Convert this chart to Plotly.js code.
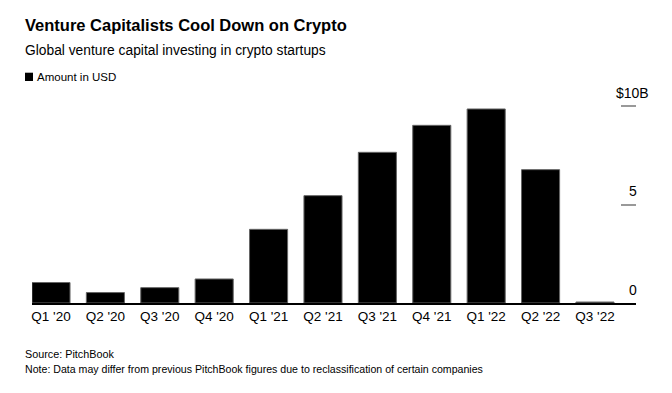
<!DOCTYPE html>
<html>
<head>
<meta charset="utf-8">
<script src="https://cdn.plot.ly/plotly-3.0.1.min.js"></script>
<style>html,body{margin:0;padding:0;background:#fff;}#chart{width:672px;height:393px;}</style>
</head>
<body>
<div id="chart"></div>
<script>
const quarters = ["Q1 '20","Q2 '20","Q3 '20","Q4 '20","Q1 '21","Q2 '21","Q3 '21","Q4 '21","Q1 '22","Q2 '22","Q3 '22"];
const amountBillions = [1.04, 0.53, 0.78, 1.22, 3.74, 5.45, 7.65, 9.02, 9.85, 6.77, 0.05];
const yTickValues = [0, 5, 10];
const yTickLabels = ["0", "5", "$10B"];

const xIndex = quarters.map((q, i) => i);
const FONT = "Liberation Sans, Arial, Helvetica, sans-serif";

const trace = {
  type: 'bar',
  x: xIndex,
  y: amountBillions,
  name: 'Amount in USD',
  marker: {color: '#000000', line: {color: '#666666', width: 1}},
  width: 0.7,
  hoverinfo: 'skip',
  showlegend: false
};

// plot area: left 32px, width 604px, bottom at 303px, height 208px
const px = v => (v - 32) / 604;
const py = v => (303 - v) / 208;

const yLabelAnnotations = yTickValues.map((v, i) => ({
  xref: 'paper', yref: 'y', x: px(632.5), y: v, xanchor: 'center', yanchor: 'middle',
  yshift: 13.5, showarrow: false, text: yTickLabels[i],
  font: {size: 14, family: FONT, color: '#000'}
}));

const layout = {
  width: 672, height: 393,
  margin: {l: 32, r: 36, t: 95, b: 90},
  paper_bgcolor: '#ffffff', plot_bgcolor: '#ffffff',
  font: {family: FONT, color: '#000', size: 13},
  showlegend: false,
  bargap: 0.3,
  xaxis: {
    range: [-0.349, 10.754],
    tickvals: xIndex, ticktext: quarters,
    ticks: '', showgrid: false, zeroline: false,
    showline: true, linecolor: '#000', linewidth: 1.5,
    tickfont: {size: 13.5, family: FONT}, fixedrange: true
  },
  yaxis: {
    range: [0, 10.56], side: 'right',
    tickvals: yTickValues, showticklabels: false,
    ticks: 'inside', ticklen: 15, tickwidth: 2, tickcolor: '#999999',
    showgrid: false, zeroline: false, showline: false, fixedrange: true
  },
  shapes: [
    {type: 'rect', xref: 'paper', yref: 'paper', x0: px(25), x1: px(33), y0: py(81), y1: py(72.7),
     fillcolor: '#000', line: {width: 0}}
  ],
  annotations: [
    {xref: 'paper', yref: 'paper', x: px(23), y: py(25), xanchor: 'left', yanchor: 'middle', showarrow: false,
     text: '<b>Venture Capitalists Cool Down on Crypto</b>', font: {size: 16.5, family: FONT, color: '#000'}},
    {xref: 'paper', yref: 'paper', x: px(23), y: py(50), xanchor: 'left', yanchor: 'middle', showarrow: false,
     text: 'Global venture capital investing in crypto startups', font: {size: 13.8, family: FONT, color: '#000'}},
    {xref: 'paper', yref: 'paper', x: px(35), y: py(76.5), xanchor: 'left', yanchor: 'middle', showarrow: false,
     text: 'Amount in USD', font: {size: 11.5, family: FONT, color: '#000'}},
    {xref: 'paper', yref: 'paper', x: px(23), y: py(354), xanchor: 'left', yanchor: 'middle', showarrow: false,
     text: 'Source: PitchBook', font: {size: 10.8, family: FONT, color: '#000'}},
    {xref: 'paper', yref: 'paper', x: px(23), y: py(369), xanchor: 'left', yanchor: 'middle', showarrow: false,
     text: 'Note: Data may differ from previous PitchBook figures due to reclassification of certain companies', font: {size: 10.6, family: FONT, color: '#000'}}
  ].concat(yLabelAnnotations)
};

Plotly.newPlot('chart', [trace], layout, {displayModeBar: false, staticPlot: true});
</script>
</body>
</html>
